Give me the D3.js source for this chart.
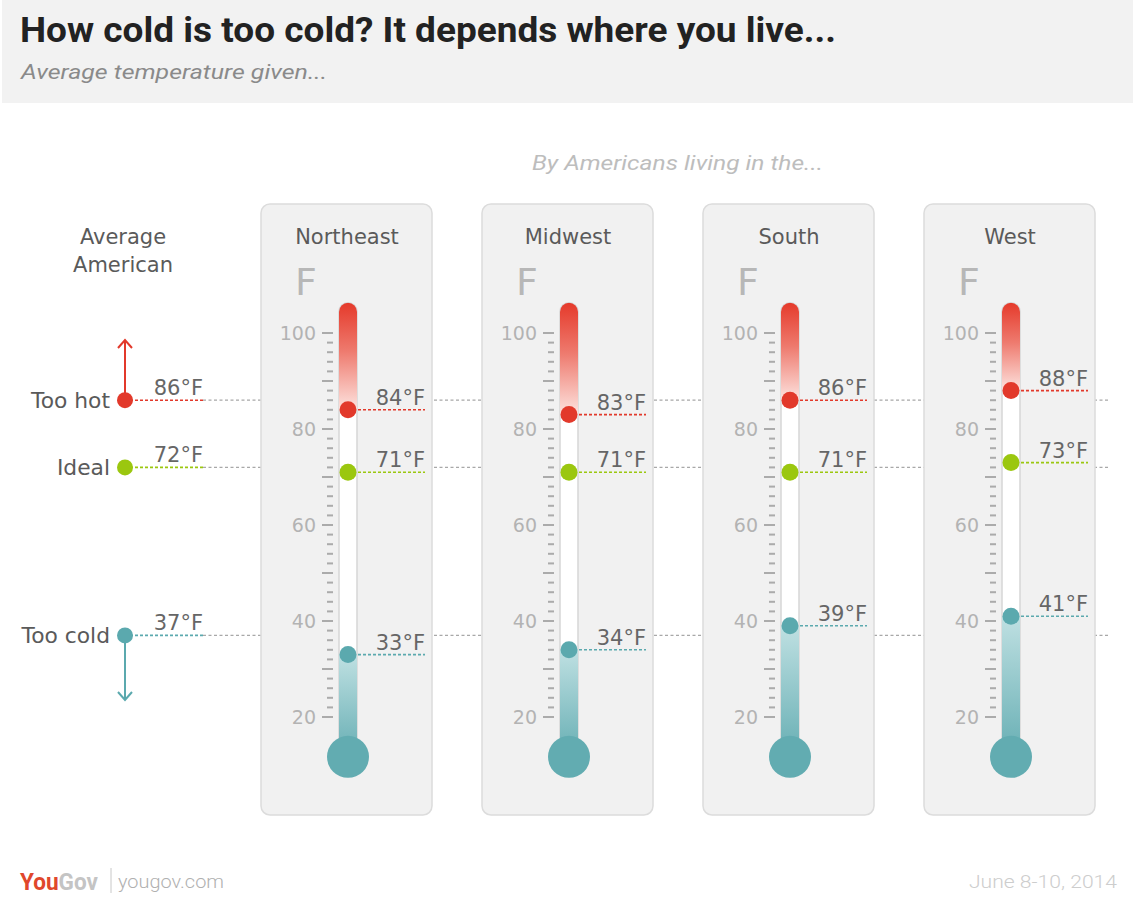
<!DOCTYPE html>
<html>
<head>
<meta charset="utf-8">
<script src="https://cdn.jsdelivr.net/npm/d3@7"></script>
<style>
  html, body { margin: 0; padding: 0; background: #fff; }
  svg { display: block; }
</style>
</head>
<body>
<svg id="chart" width="1133" height="911"></svg>
<script>
// ---- data ----
const regions = ["Northeast", "Midwest", "South", "West"];
const tooHot  = [84, 83, 86, 88];
const ideal   = [71, 71, 71, 73];
const tooCold = [33, 34, 39, 41];

const avgLabels = ["Too hot", "Ideal", "Too cold"];
const avgValues = [86, 72, 37];

const tickLabels = [20, 40, 60, 80, 100];

const titleText = "How cold is too cold? It depends where you live...";
const subtitleText = "Average temperature given...";
const byText = "By Americans living in the...";
const dateText = "June 8-10, 2014";

// ---- setup ----
const svg = d3.select("#chart");
const W = 1133, H = 911;
const RED = "#e2392b", GREEN = "#9bc70f", TEAL = "#5ba9ae";
const FONT = "'DejaVu Sans', Verdana, sans-serif";
const COND = "Roboto, 'Liberation Sans', sans-serif";

const y = d3.scaleLinear().domain([20, 100]).range([717, 333]);
const panelX = d3.scalePoint().domain(regions).range([261, 924]);
const panelW = 171;
const tubeTopTemp = 106.3;
const bulbTemp = 11.7;

const defs = svg.append("defs");
const gRed = defs.append("linearGradient").attr("id", "gradRed").attr("x1", 0).attr("y1", 0).attr("x2", 0).attr("y2", 1);
gRed.append("stop").attr("offset", "0%").attr("stop-color", "#e53a2b");
gRed.append("stop").attr("offset", "45%").attr("stop-color", "#ee7a6e");
gRed.append("stop").attr("offset", "100%").attr("stop-color", "#fde3df");
const gTeal = defs.append("linearGradient").attr("id", "gradTeal").attr("x1", 0).attr("y1", 0).attr("x2", 0).attr("y2", 1);
gTeal.append("stop").attr("offset", "0%").attr("stop-color", "#bfe0e2");
gTeal.append("stop").attr("offset", "100%").attr("stop-color", "#66aeb3");

// header band
svg.append("rect").attr("x", 2).attr("y", 0).attr("width", W - 2).attr("height", 103).attr("fill", "#f2f2f2");
svg.append("text").attr("x", 20).attr("y", 42).text(titleText)
  .attr("font-family", COND).attr("font-weight", 700).attr("font-size", 35).attr("fill", "#222")
  .attr("textLength", 816).attr("lengthAdjust", "spacingAndGlyphs");
svg.append("text").attr("x", 21).attr("y", 79).text(subtitleText)
  .attr("font-family", COND).attr("font-style", "italic").attr("font-size", 21).attr("fill", "#8a8a8a")
  .attr("textLength", 306).attr("lengthAdjust", "spacingAndGlyphs");

svg.append("text").attr("x", 532).attr("y", 170).text(byText)
  .attr("font-family", COND).attr("font-style", "italic").attr("font-size", 21).attr("fill", "#bdbdbd")
  .attr("textLength", 291).attr("lengthAdjust", "spacingAndGlyphs");

// Average American
const leftX = 125;
const aa = svg.append("g");
aa.append("text").attr("text-anchor", "middle").attr("font-family", FONT).attr("font-size", 21).attr("fill", "#5a5a5a")
  .selectAll("tspan").data(["Average", "American"]).join("tspan")
  .attr("x", 123).attr("y", (d, i) => 244 + i * 28).text(d => d);

const avgColors = [RED, GREEN, TEAL];
// gray dashed lines across (under the panels)
aa.selectAll("line.grey").data(avgValues).join("line")
  .attr("x1", 203).attr("x2", 1110).attr("y1", d => y(d)).attr("y2", d => y(d))
  .attr("stroke", "#a8a8a8").attr("stroke-width", 1.3).attr("stroke-dasharray", "3,2.5");

// arrows
const upY = 340, downY = 700;
aa.append("line").attr("x1", leftX).attr("x2", leftX).attr("y1", y(avgValues[0])).attr("y2", upY)
  .attr("stroke", RED).attr("stroke-width", 2);
aa.append("path").attr("d", `M${leftX - 7},${upY + 8}L${leftX},${upY}L${leftX + 7},${upY + 8}`)
  .attr("fill", "none").attr("stroke", RED).attr("stroke-width", 2);
aa.append("line").attr("x1", leftX).attr("x2", leftX).attr("y1", y(avgValues[2])).attr("y2", downY)
  .attr("stroke", TEAL).attr("stroke-width", 2);
aa.append("path").attr("d", `M${leftX - 7},${downY - 8}L${leftX},${downY}L${leftX + 7},${downY - 8}`)
  .attr("fill", "none").attr("stroke", TEAL).attr("stroke-width", 2);

avgValues.forEach((v, i) => {
  aa.append("line").attr("x1", leftX).attr("x2", 203).attr("y1", y(v)).attr("y2", y(v))
    .attr("stroke", avgColors[i]).attr("stroke-width", 1.6).attr("stroke-dasharray", "3,2");
  aa.append("circle").attr("cx", leftX).attr("cy", y(v)).attr("r", 8).attr("fill", avgColors[i]);
  aa.append("text").attr("x", 110).attr("y", y(v) + 8).attr("text-anchor", "end")
    .attr("font-family", FONT).attr("font-size", 21.8).attr("fill", "#5a5a5a").text(avgLabels[i]);
  aa.append("text").attr("x", 203).attr("y", y(v) - 5).attr("text-anchor", "end")
    .attr("font-family", FONT).attr("font-size", 21).attr("fill", "#666").text(v + "°F");
});

// panels
regions.forEach((r, i) => {
  const px = panelX(r);
  const c = px + 87;
  const g = svg.append("g");
  g.append("rect").attr("x", px).attr("y", 204).attr("width", panelW).attr("height", 611).attr("rx", 9)
    .attr("fill", "#f1f1f1").attr("stroke", "#dcdcdc").attr("stroke-width", 1.5);
  g.append("text").attr("x", px + 86).attr("y", 244).attr("text-anchor", "middle")
    .attr("font-family", FONT).attr("font-size", 21).attr("fill", "#5a5a5a").text(r);
  g.append("text").attr("x", px + 34).attr("y", 295)
    .attr("font-family", FONT).attr("font-size", 38).attr("fill", "#b7b7b7").text("F");

  // ticks
  const minor = d3.range(20, 101, 2);
  g.selectAll("line.tk").data(minor).join("line")
    .attr("x1", d => d % 10 === 0 ? c - 26 : c - 21).attr("x2", c - 15)
    .attr("y1", d => y(d)).attr("y2", d => y(d))
    .attr("stroke", "#ababab").attr("stroke-width", 2);
  g.selectAll("text.tl").data(tickLabels).join("text")
    .attr("x", c - 32).attr("y", d => y(d) + 7).attr("text-anchor", "end")
    .attr("font-family", FONT).attr("font-size", 19).attr("fill", "#b3b3b3").text(d => d);

  // tube
  const tTop = y(tubeTopTemp), tBot = y(bulbTemp);
  const clipId = "tube" + i;
  defs.append("clipPath").attr("id", clipId).append("rect")
    .attr("x", c - 9).attr("y", tTop).attr("width", 18).attr("height", tBot - tTop).attr("rx", 9);
  g.append("rect").attr("x", c - 9).attr("y", tTop).attr("width", 18).attr("height", tBot - tTop).attr("rx", 9)
    .attr("fill", "#fff").attr("stroke", "#d6d6d6").attr("stroke-width", 1.5);
  const tg = g.append("g").attr("clip-path", `url(#${clipId})`);
  tg.append("rect").attr("x", c - 10).attr("y", tTop).attr("width", 20).attr("height", y(tooHot[i]) - tTop)
    .attr("fill", "url(#gradRed)");
  tg.append("rect").attr("x", c - 10).attr("y", y(tooCold[i])).attr("width", 20).attr("height", tBot - y(tooCold[i]))
    .attr("fill", "url(#gradTeal)");
  g.append("circle").attr("cx", c).attr("cy", tBot).attr("r", 21).attr("fill", "#62acb1");

  const vals = [tooHot[i], ideal[i], tooCold[i]];
  vals.forEach((v, k) => {
    g.append("line").attr("x1", c).attr("x2", c + 77).attr("y1", y(v)).attr("y2", y(v))
      .attr("stroke", avgColors[k]).attr("stroke-width", 1.6).attr("stroke-dasharray", "3,2");
    g.append("circle").attr("cx", c).attr("cy", y(v)).attr("r", 8.5).attr("fill", avgColors[k]);
    g.append("text").attr("x", c + 77).attr("y", y(v) - 5).attr("text-anchor", "end")
      .attr("font-family", FONT).attr("font-size", 21).attr("fill", "#666").text(v + "°F");
  });
});

// footer
const ft = svg.append("g");
const logo = ft.append("text").attr("x", 20).attr("y", 890)
  .attr("font-family", COND).attr("font-weight", 700).attr("font-size", 23)
  .attr("textLength", 78).attr("lengthAdjust", "spacingAndGlyphs");
logo.append("tspan").attr("fill", "#e0472c").text("You");
logo.append("tspan").attr("fill", "#c4c4c4").text("Gov");
ft.append("line").attr("x1", 111).attr("x2", 111).attr("y1", 868).attr("y2", 893).attr("stroke", "#c8c8c8").attr("stroke-width", 1);
ft.append("text").attr("x", 118).attr("y", 888).attr("font-family", COND).attr("font-weight", 300).attr("font-size", 19)
  .attr("fill", "#b0b0b0").attr("textLength", 106).attr("lengthAdjust", "spacingAndGlyphs").text("yougov.com");
ft.append("text").attr("x", 969).attr("y", 888).attr("font-family", COND).attr("font-weight", 300).attr("font-size", 19)
  .attr("fill", "#cdcdcd").attr("textLength", 148).attr("lengthAdjust", "spacingAndGlyphs").text(dateText);
</script>
</body>
</html>
